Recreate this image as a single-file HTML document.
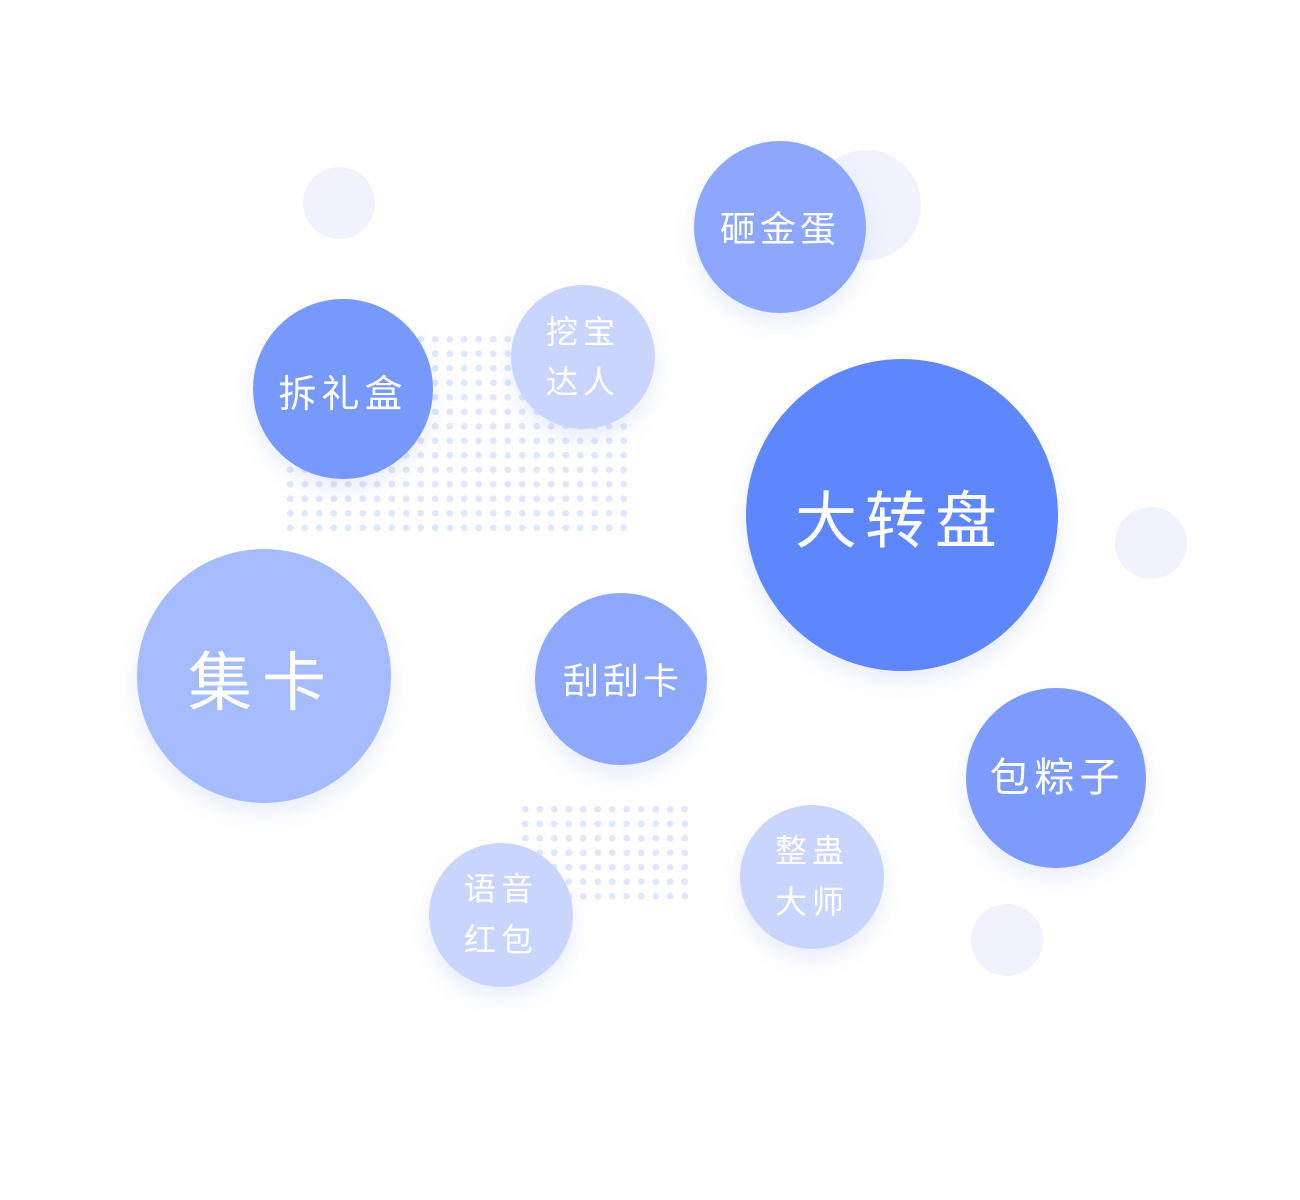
<!DOCTYPE html>
<html><head><meta charset="utf-8"><style>
html,body{margin:0;padding:0;background:#fff;}
svg{display:block;}
text{font-family:"Liberation Sans","Noto Sans CJK SC",sans-serif;fill:#fff;text-anchor:middle;dominant-baseline:central;}
</style></head><body>
<svg width="1300" height="1200" viewBox="0 0 1300 1200" xmlns="http://www.w3.org/2000/svg">
<defs>
<pattern id="dots" x="283" y="332" width="14.5" height="14.5" patternUnits="userSpaceOnUse"><circle cx="7.25" cy="7.25" r="3.4" fill="#e0e7fd"/></pattern>
<pattern id="dots2" x="518" y="802" width="14.5" height="14.5" patternUnits="userSpaceOnUse"><circle cx="7.25" cy="7.25" r="3.4" fill="#e0e7fd"/></pattern>
<filter id="sh" x="-30%" y="-30%" width="160%" height="170%"><feDropShadow dx="0" dy="10" stdDeviation="10" flood-color="#5f7fd0" flood-opacity="0.14"/></filter>
</defs>
<rect x="283" y="332" width="348" height="203" fill="url(#dots)"/>
<rect x="518" y="802" width="174" height="102" fill="url(#dots2)"/>
<circle cx="339" cy="203" r="36" fill="#f0f3fe"/>
<circle cx="866" cy="205" r="55" fill="#f0f3fe"/>
<circle cx="1151" cy="543" r="36" fill="#f0f3fe"/>
<circle cx="1007" cy="940" r="36" fill="#f0f3fe"/>
<g filter="url(#sh)">
<circle cx="780" cy="227" r="86" fill="#8ca7fb"/>
<circle cx="343" cy="389" r="90" fill="#7799fc"/>
<circle cx="583" cy="357" r="72" fill="#c9d5fc"/>
<circle cx="902" cy="515" r="156" fill="#5f87fd"/>
<circle cx="264" cy="676" r="127" fill="#a6bbfb"/>
<circle cx="621" cy="679" r="86" fill="#8ea8fb"/>
<circle cx="1056" cy="778" r="90" fill="#7b9bfc"/>
<circle cx="812" cy="877" r="72" fill="#c9d5fc"/>
<circle cx="501" cy="915" r="72" fill="#c9d5fc"/>
</g>
<text x="780" y="229" font-size="36" letter-spacing="4">砸金蛋</text>
<text x="343" y="395" font-size="38" letter-spacing="5">拆礼盒</text>
<text x="583" y="332" font-size="32" letter-spacing="5">挖宝</text>
<text x="583" y="382" font-size="32" letter-spacing="5">达人</text>
<text x="900" y="522" font-size="62" letter-spacing="8">大转盘</text>
<text x="262" y="683" font-size="64" letter-spacing="10">集卡</text>
<text x="623" y="681" font-size="36" letter-spacing="4">刮刮卡</text>
<text x="1057" y="778" font-size="40" letter-spacing="5">包粽子</text>
<text x="812" y="851" font-size="32" letter-spacing="5">整蛊</text>
<text x="812" y="902" font-size="32" letter-spacing="5">大师</text>
<text x="501" y="889" font-size="32" letter-spacing="5">语音</text>
<text x="501" y="940" font-size="32" letter-spacing="5">红包</text>
</svg>
</body></html>
